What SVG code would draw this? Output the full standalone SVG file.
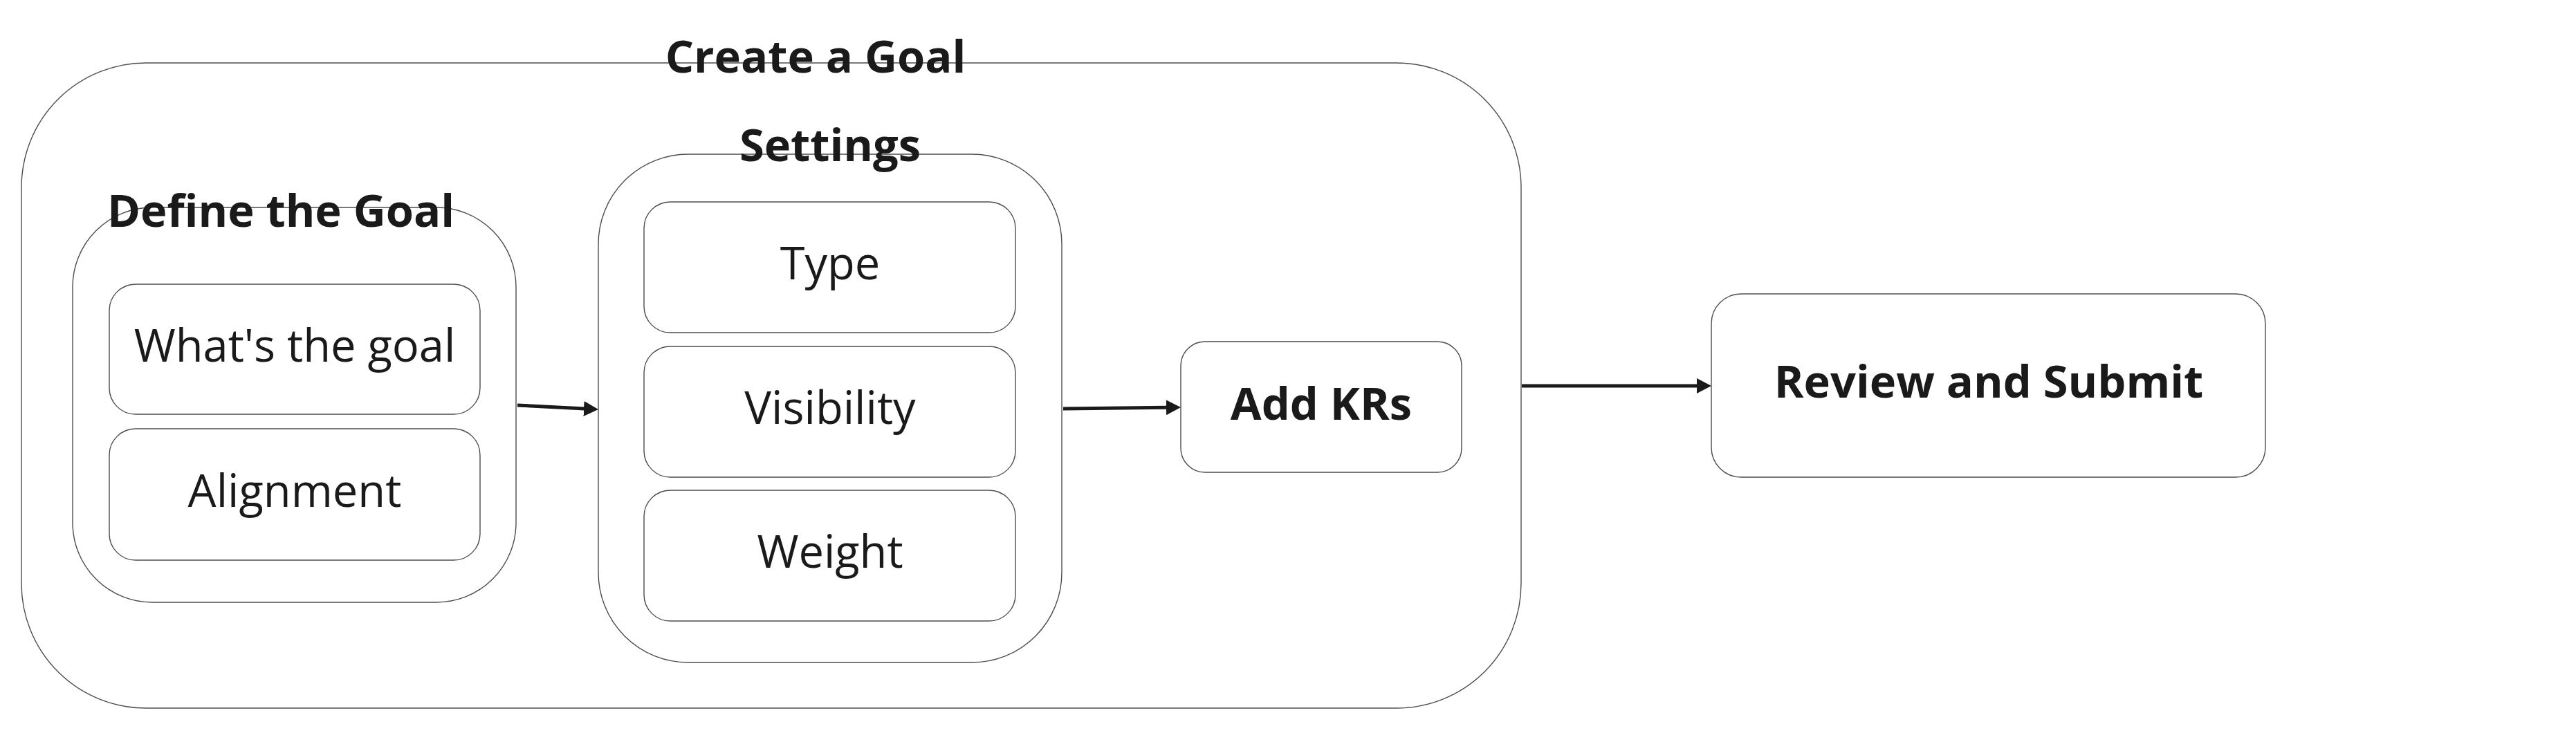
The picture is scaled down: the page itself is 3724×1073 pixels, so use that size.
<svg xmlns="http://www.w3.org/2000/svg" width="3724" height="1073" viewBox="0 0 3724 1073">
<style>
.box{fill:#ffffff;stroke:#4d4d4d;stroke-width:1.4}
.t{font-family:"Open Sans","Noto Sans","Liberation Sans",sans-serif;font-size:65px;fill:#1a1a1a;text-anchor:middle}
.b{font-weight:bold}
.edge{stroke:#1a1a1a;stroke-width:5;fill:none}
</style>
<defs>
<marker id="arr" markerUnits="userSpaceOnUse" viewBox="0 -12 22 24" markerWidth="22" markerHeight="24" refX="1" refY="0" orient="auto">
<path d="M0,-11 L21,0 L0,11 Z" fill="#1a1a1a"/>
</marker>
</defs>
<rect width="3724" height="1073" fill="#ffffff"/>
<g id="create-goal">
<rect class="box" x="31" y="91" width="2168" height="933" rx="180" ry="180"/>
<text class="t b" x="1179" y="105">Create a Goal</text>
</g>
<g id="define-goal">
<rect class="box" x="105" y="300" width="641" height="571" rx="115" ry="115"/>
<text class="t b" x="406" y="328">Define the Goal</text>
</g>
<g id="whats-goal">
<rect class="box" x="158" y="411" width="536" height="188" rx="38" ry="38"/>
<text class="t" x="426" y="523">What's the goal</text>
</g>
<g id="alignment">
<rect class="box" x="158" y="620" width="536" height="190" rx="38" ry="38"/>
<text class="t" x="426" y="733">Alignment</text>
</g>
<g id="settings">
<rect class="box" x="865" y="223" width="670" height="735" rx="130" ry="130"/>
<text class="t b" x="1200" y="233">Settings</text>
</g>
<g id="type">
<rect class="box" x="931" y="292" width="537" height="189" rx="38" ry="38"/>
<text class="t" x="1200" y="404">Type</text>
</g>
<g id="visibility">
<rect class="box" x="931" y="501" width="537" height="189" rx="38" ry="38"/>
<text class="t" x="1200" y="613">Visibility</text>
</g>
<g id="weight">
<rect class="box" x="931" y="709" width="537" height="189" rx="38" ry="38"/>
<text class="t" x="1200" y="821">Weight</text>
</g>
<g id="add-krs">
<rect class="box" x="1707" y="494" width="406" height="189" rx="35" ry="35"/>
<text class="t b" x="1910" y="607">Add KRs</text>
</g>
<g id="review-submit">
<rect class="box" x="2474" y="425" width="801" height="265" rx="43" ry="43"/>
<text class="t b" x="2875" y="575">Review and Submit</text>
</g>
<g id="connectors">
<line class="edge" x1="748" y1="586" x2="845" y2="591" marker-end="url(#arr)"/>
<line class="edge" x1="1537" y1="591" x2="1687" y2="589.3" marker-end="url(#arr)"/>
<line class="edge" x1="2200" y1="558" x2="2454" y2="558" marker-end="url(#arr)"/>
</g>
</svg>
